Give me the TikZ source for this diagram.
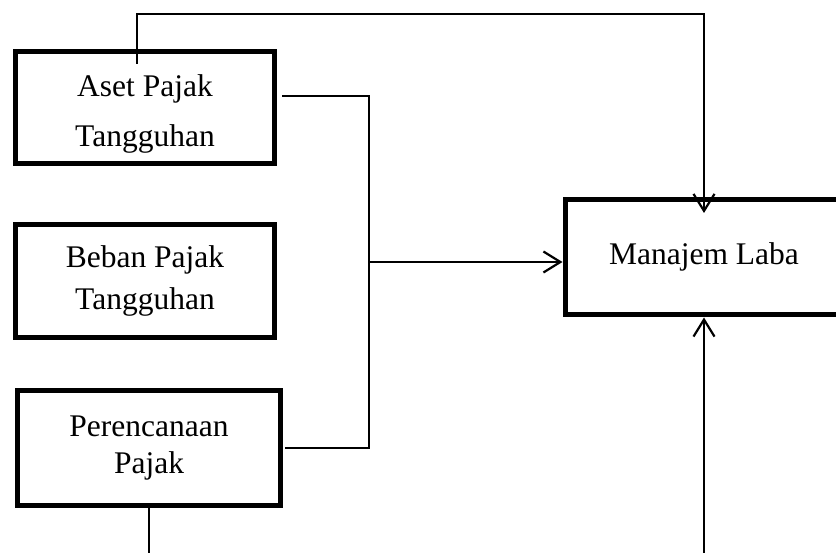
\documentclass[tikz,border=0pt]{standalone}
\usepackage{fontspec}
\setmainfont{Liberation Serif}
\usetikzlibrary{arrows.meta}
\tikzset{
  kotak/.style={draw, line width=5pt, inner sep=0pt, align=center,
    font=\fontsize{31.5}{37}\selectfont},
  garis/.style={line width=2.2pt},
  panah/.style={garis, -{Straight Barb[length=17pt,width=21pt]}}
}
\begin{document}
\begin{tikzpicture}[x=1pt, y=-1pt]
                \clip (0,0) rectangle (836,553);

                \node[kotak, minimum width=259pt, minimum height=112pt] (aset) at (145,107.5) {\rule{0pt}{34pt}Aset Pajak\\[13pt]Tangguhan};
                \node[kotak, minimum width=259pt, minimum height=113.5pt] (beban) at (145,281.25) {Beban Pajak\\[5pt]Tangguhan};
                \node[kotak, minimum width=263pt, minimum height=114.5pt] (perencanaan) at (149,447.75) {Perencanaan\\Pajak};
                \node[kotak, minimum width=278pt, minimum height=115.5pt] (manajemen) at (704,257.25) {Manajem Laba};

                \coordinate (atas) at (0,14);
                \coordinate (bawah) at (0,560);
                \coordinate (simpul) at (369,262);

                \draw[panah] ([xshift=-8pt,yshift=-15pt]aset.north) |- (atas -| manajemen.north) -- ([yshift=-16pt]manajemen.north);
                \draw[garis] ([xshift=5pt,yshift=11.5pt]aset.east) -| (simpul) |- ([xshift=2pt]perencanaan.east);
                \draw[panah] (simpul) -- (simpul -| manajemen.west);
                \draw[garis] (perencanaan.south) -- (perencanaan.south |- bawah);
                \draw[panah] (manajemen.south |- bawah) -- (manajemen.south);
            \end{tikzpicture}
\end{document}
